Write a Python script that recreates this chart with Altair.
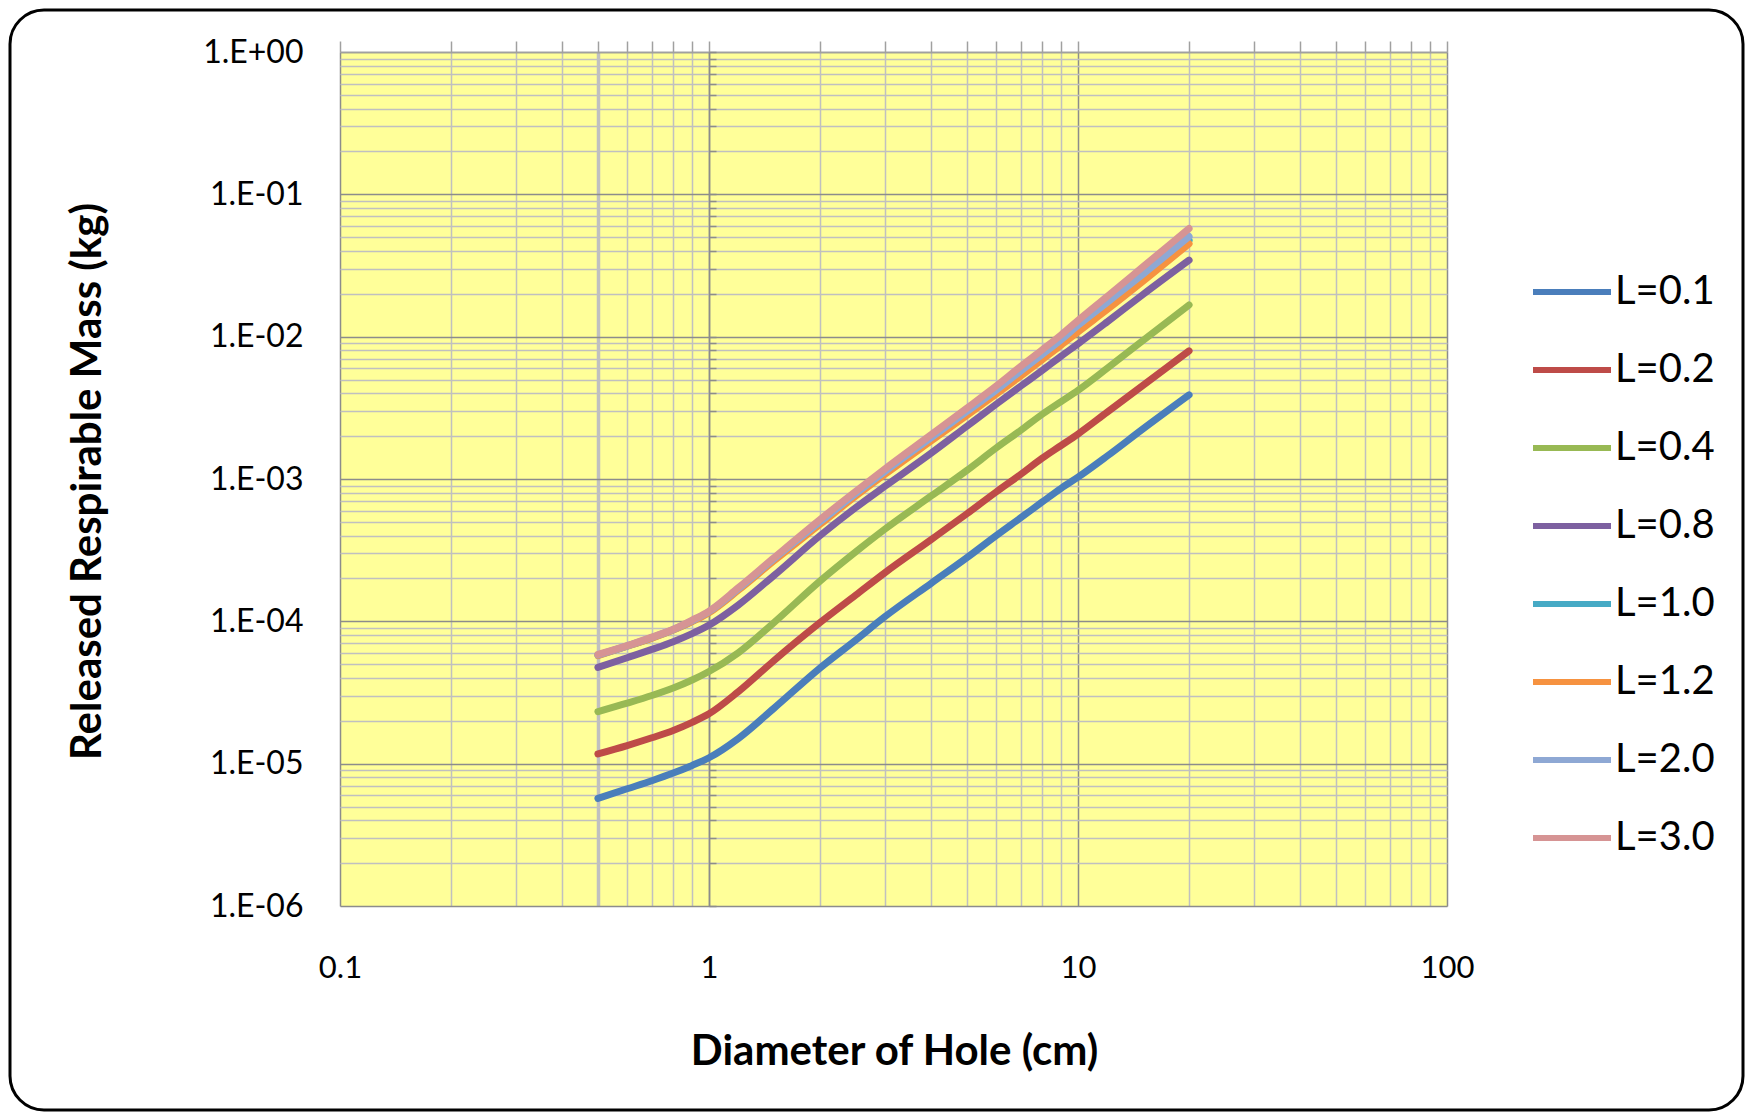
import altair as alt
import pandas as pd

# ---- data ----
diam = [0.5, 0.6, 0.7, 0.8, 0.9, 1.0, 1.2, 1.5, 2.0, 2.5, 3.0, 4.0, 5.0, 6.0, 7.0, 8.0, 9.0, 10, 12, 15, 20]

m_L01 = [5.7e-6, 6.66e-6, 7.59e-6, 8.59e-6, 9.72e-6, 1.1e-5, 1.5e-5, 2.45e-5, 4.7e-5, 7.4e-5, 1.08e-4,
         1.85e-4, 2.8e-4, 4.0e-4, 5.35e-4, 6.9e-4, 8.6e-4, 1.03e-3, 1.45e-3, 2.25e-3, 3.9e-3]
m_L02 = [1.17e-5, 1.34e-5, 1.52e-5, 1.71e-5, 1.95e-5, 2.24e-5, 3.2e-5, 5.3e-5, 9.8e-5, 1.53e-4, 2.2e-4,
         3.75e-4, 5.7e-4, 8.1e-4, 1.08e-3, 1.4e-3, 1.72e-3, 2.07e-3, 2.95e-3, 4.55e-3, 7.95e-3]
m_L04 = [2.32e-5, 2.66e-5, 3.01e-5, 3.4e-5, 3.87e-5, 4.44e-5, 6.0e-5, 9.8e-5, 1.92e-4, 3.08e-4, 4.45e-4,
         7.6e-4, 1.15e-3, 1.65e-3, 2.2e-3, 2.85e-3, 3.5e-3, 4.2e-3, 6.0e-3, 9.4e-3, 1.67e-2]
m_L08 = [4.75e-5, 5.55e-5, 6.35e-5, 7.2e-5, 8.2e-5, 9.4e-5, 1.3e-4, 2.1e-4, 4.0e-4, 6.3e-4, 8.9e-4,
         1.52e-3, 2.35e-3, 3.35e-3, 4.5e-3, 5.8e-3, 7.3e-3, 8.9e-3, 1.27e-2, 1.98e-2, 3.45e-2]
m_L10 = [5.78e-5, 6.7e-5, 7.65e-5, 8.72e-5, 1.0e-4, 1.16e-4, 1.67e-4, 2.7e-4, 4.9e-4, 7.75e-4, 1.1e-3,
         1.9e-3, 2.88e-3, 4.05e-3, 5.5e-3, 7.15e-3, 9.0e-3, 1.13e-2, 1.63e-2, 2.58e-2, 4.75e-2]
m_L12 = [5.75e-5, 6.68e-5, 7.6e-5, 8.68e-5, 9.95e-5, 1.15e-4, 1.65e-4, 2.66e-4, 4.8e-4, 7.6e-4, 1.08e-3,
         1.85e-3, 2.8e-3, 3.95e-3, 5.3e-3, 6.9e-3, 8.7e-3, 1.08e-2, 1.55e-2, 2.45e-2, 4.5e-2]
m_L20 = [5.8e-5, 6.72e-5, 7.7e-5, 8.75e-5, 1.01e-4, 1.17e-4, 1.69e-4, 2.75e-4, 5.0e-4, 7.9e-4, 1.13e-3,
         1.95e-3, 2.98e-3, 4.2e-3, 5.75e-3, 7.5e-3, 9.5e-3, 1.2e-2, 1.74e-2, 2.75e-2, 5.05e-2]
m_L30 = [5.85e-5, 6.75e-5, 7.75e-5, 8.8e-5, 1.02e-4, 1.18e-4, 1.72e-4, 2.8e-4, 5.2e-4, 8.2e-4, 1.18e-3,
         2.05e-3, 3.15e-3, 4.5e-3, 6.2e-3, 8.1e-3, 1.03e-2, 1.3e-2, 1.92e-2, 3.1e-2, 5.75e-2]

series = ["L=0.1", "L=0.2", "L=0.4", "L=0.8", "L=1.0", "L=1.2", "L=2.0", "L=3.0"]
values = [m_L01, m_L02, m_L04, m_L08, m_L10, m_L12, m_L20, m_L30]
colors = ["#4A7EBB", "#BE4B48", "#98B954", "#7D60A0", "#46AAC5", "#F69240", "#8EA8D4", "#D69494"]

x_labels = [0.1, 1, 10, 100]
x_grid = [m * 10 ** k for k in (-1, 0, 1) for m in range(1, 10)] + [100]
y_grid = [m * 10.0 ** k for k in range(-6, 0) for m in range(1, 10)] + [1.0]

rows = []
for name, vals in zip(series, values):
    for d, m in zip(diam, vals):
        rows.append({"d": d, "m": m, "L": name})
df = pd.DataFrame(rows)

FONT = "Lato"
is_decade = "abs(log(datum.value)/LN10 - round(log(datum.value)/LN10)) < 1e-6"
ex = "round(log(datum.value)/LN10)"
y_label_expr = (f"{is_decade} ? '1.E' + ({ex} >= 0 ? '+' : '-') + "
                f"(abs({ex}) < 10 ? '0' : '') + abs({ex}) : ''")

grid_color = {"condition": {"test": is_decade, "value": "#8c8c8c"}, "value": "#c0c0c0"}
x_grid_width = {"condition": {"test": "abs(datum.value - 0.5) < 1e-9", "value": 3.5}, "value": 1.5}

xscale = alt.Scale(type="log", domain=[0.1, 100], nice=False)
yscale = alt.Scale(type="log", domain=[1e-6, 1], nice=False)

# invisible layer carrying the top x axis (ticks + vertical grid) and the y axis crossing at x=1
frame = alt.Chart(df).mark_point(opacity=0).encode(
    x=alt.X("d:Q", scale=xscale, axis=alt.Axis(
        orient="top", values=x_grid, labels=False, ticks=True, tickSize=11,
        tickColor="#a0a0a0", tickWidth=1.5, domain=True, domainColor="#a0a0a0",
        domainWidth=1.5, grid=True, gridColor=grid_color, gridWidth=x_grid_width, title="")),
    y=alt.Y("m:Q", scale=yscale, axis=alt.Axis(
        orient="right", offset=-738, values=y_grid, labels=False, ticks=True, tickSize=7,
        tickColor="#8c8c8c", tickWidth=1.5, domain=True, domainColor="#8c8c8c",
        domainWidth=1.5, grid=False, title="")),
)

lines = alt.Chart(df).mark_line(
    strokeWidth=7, strokeCap="round", strokeJoin="round", interpolate="monotone"
).encode(
    x=alt.X("d:Q", scale=xscale, axis=alt.Axis(
        orient="bottom", values=x_labels, format="~g", ticks=False, tickSize=0,
        domain=False, grid=False, labelFontSize=31, labelPadding=47, labelColor="black",
        labelFont=FONT, labelFlush=False, title="Diameter of Hole (cm)", titleFont=FONT,
        titleFontSize=42, titleFontWeight="bold", titleColor="black", titleX=554, titleY=158,
        titleBaseline="alphabetic")),
    y=alt.Y("m:Q", scale=yscale, axis=alt.Axis(
        orient="left", values=y_grid, labelExpr=y_label_expr, ticks=False, tickSize=0,
        domain=False, grid=True, gridColor=grid_color, gridWidth=1.5, labelFontSize=32,
        labelPadding=37, labelOverlap=False, labelColor="black", labelFont=FONT,
        labelFlush=False,
        title="Released Respirable Mass (kg)", titleFont=FONT, titleFontSize=42,
        titleFontWeight="bold", titleColor="black", titleX=-253, titleY=429,
        titleBaseline="middle")),
    color=alt.Color("L:N", scale=alt.Scale(domain=series, range=colors), legend=alt.Legend(
        orient="none", legendX=1190, legendY=198, title=None, symbolType="stroke",
        symbolSize=6084, symbolStrokeWidth=6, labelFontSize=40, labelFont=FONT,
        labelColor="black", labelOffset=1, rowPadding=16, padding=0)),
)

border = alt.Chart(pd.DataFrame({"frame": [1]})).mark_rect(
    fill="white", fillOpacity=0, stroke="black", strokeWidth=3, cornerRadius=34
).encode(x=alt.value(-330), x2=alt.value(1403), y=alt.value(-42), y2=alt.value(1058))

chart = alt.layer(frame, lines, border).properties(
    width=1107, height=854,
    padding={"left": 332, "top": 44, "right": 298, "bottom": 206},
    autosize=alt.AutoSizeParams(type="none"),
).configure(font=FONT, background="white").configure_view(fill="#FFFF99", stroke="transparent")

chart.save("out.html", embed_options={"renderer": "svg", "actions": False})
